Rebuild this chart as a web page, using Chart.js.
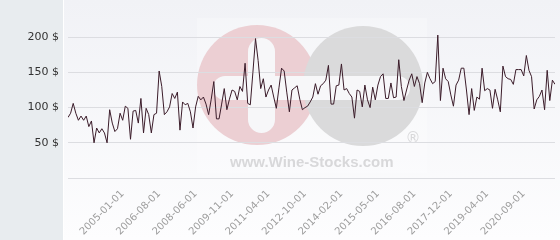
<!DOCTYPE html>
<html>
<head>
<meta charset="utf-8">
<script src="https://cdn.jsdelivr.net/npm/chart.js@4"></script>
<style>
html,body{margin:0;padding:0;background:#f6f7fa;}
#wrap{width:560px;height:240px;position:relative;}
</style>
</head>
<body>
<div id="wrap"><canvas id="c" width="560" height="240"></canvas></div>
<script>
const prices = [
  86, 92, 106, 92, 82, 88, 82, 88, 73, 81, 50, 71, 64, 70, 64, 50, 97, 78, 66, 70,
  92, 82, 102, 99, 55, 95, 96, 78, 113, 64, 99, 90, 64, 90, 92, 152, 130, 90, 94, 101,
  120, 113, 122, 68, 108, 104, 106, 94, 71, 101,
  116, 111, 115, 105, 90, 112, 137, 84, 84, 105, 127, 97, 112, 125, 123, 111, 130, 123, 163, 106,
  104, 150, 198, 167, 127, 141, 115, 125, 132, 115, 99, 128, 156, 152, 122, 94, 125, 128, 131, 112,
  97, 100, 102, 108, 115, 134, 119, 131, 134, 139, 160, 105, 105, 131, 132, 162, 125, 127, 120, 115,
  85, 125, 123, 101, 132, 111, 100, 129, 111, 132, 144,
  148, 113, 113, 135, 114, 115, 168, 130, 110, 125, 139, 148, 130, 144, 134, 107, 135, 150, 141, 134,
  137, 203, 110, 156, 141, 137, 118, 102, 132, 139, 156, 156, 125, 90, 127, 96, 115, 112, 156, 124,
  127, 125, 99, 126, 111, 94, 159, 144, 141, 140, 133, 154, 154, 154, 145, 174, 153, 144, 98, 111,
  116, 125, 97, 153, 110, 139, 133
];
// Date tick labels shown on the x axis
const tickLabels = ['2005-01-01','2006-08-01','2008-06-01','2009-11-01','2011-04-01','2012-10-01',
                    '2014-02-01','2015-05-01','2016-08-01','2017-12-01','2019-04-01','2020-09-01'];
const firstTickIndex = 21;
const tickStep = 14;
// Y axis tick values
const yTicks = [0, 50, 100, 150, 200];

const tickIndexes = tickLabels.map((_, i) => firstTickIndex + i * tickStep);
const points = prices.map((v, i) => ({x: i, y: v}));

const bgPlugin = {
  id: 'bg',
  beforeDraw(chart) {
    const ctx = chart.ctx;
    const W = chart.width, H = chart.height;
    ctx.save();
    const g = ctx.createLinearGradient(0, 0, 0, H);
    g.addColorStop(0, '#f1f2f6');
    g.addColorStop(1, '#fdfdfe');
    ctx.fillStyle = g;
    ctx.fillRect(0, 0, W, H);
    ctx.fillStyle = '#e8ecef';
    ctx.fillRect(0, 0, 63, H);
    ctx.fillStyle = '#ffffff';
    ctx.fillRect(63, 0, 1, H);
    // watermark
    ctx.fillStyle = 'rgba(255,255,255,0.25)';
    ctx.fillRect(197, 18, 230, 155);
    ctx.fillStyle = '#eccfd3';
    ctx.beginPath(); ctx.arc(257, 85, 60, 0, Math.PI * 2); ctx.fill();
    ctx.fillStyle = '#dadadb';
    ctx.beginPath(); ctx.arc(363, 86, 60, 0, Math.PI * 2); ctx.fill();
    ctx.fillStyle = '#f7f7f9';
    const pill = (x, y, w, h) => {
      const r = Math.min(w, h) / 2;
      ctx.beginPath();
      ctx.moveTo(x + r, y);
      ctx.lineTo(x + w - r, y);
      ctx.arc(x + w - r, y + r, r, -Math.PI / 2, Math.PI / 2);
      ctx.lineTo(x + r, y + h);
      ctx.arc(x + r, y + h - r, r, Math.PI / 2, Math.PI * 1.5);
      ctx.closePath();
      ctx.fill();
    };
    pill(213, 76, 197, 24);
    const vx = 248, vy = 38, vw = 27, vh = 95;
    ctx.beginPath();
    ctx.moveTo(vx, vy + vw / 2);
    ctx.arc(vx + vw / 2, vy + vw / 2, vw / 2, Math.PI, 0);
    ctx.lineTo(vx + vw, vy + vh - vw / 2);
    ctx.arc(vx + vw / 2, vy + vh - vw / 2, vw / 2, 0, Math.PI);
    ctx.closePath();
    ctx.fill();
    ctx.fillStyle = '#d8d8da';
    ctx.font = 'bold 15px "Liberation Sans", Arial, sans-serif';
    ctx.textAlign = 'left';
    ctx.textBaseline = 'alphabetic';
    ctx.fillText('www.Wine-Stocks.com', 230, 167);
    ctx.font = '15px "DejaVu Sans", sans-serif';
    ctx.textAlign = 'center';
    ctx.textBaseline = 'middle';
    ctx.fillText('®', 413, 139);
    ctx.restore();
  }
};

new Chart(document.getElementById('c'), {
  type: 'line',
  data: {
    datasets: [{
      data: points,
      borderColor: '#3b1c2a',
      borderWidth: 1,
      pointRadius: 0,
      tension: 0,
      fill: false
    }]
  },
  options: {
    responsive: false,
    animation: false,
    devicePixelRatio: 1,
    layout: {padding: {top: 2, right: 5, left: 0, bottom: 0}},
    plugins: {legend: {display: false}, tooltip: {enabled: false}},
    scales: {
      x: {
        type: 'linear',
        min: 0,
        max: prices.length - 1,
        afterBuildTicks: (axis) => { axis.ticks = tickIndexes.map(v => ({value: v})); },
        afterFit: (s) => { s.height = 62; s.paddingLeft = 0; s.paddingRight = 0; },
        grid: {display: false, drawTicks: false},
        border: {display: false},
        ticks: {
          autoSkip: false,
          minRotation: 45,
          maxRotation: 45,
          padding: 10,
          color: '#9d9d9d',
          font: {family: '"DejaVu Sans", sans-serif', size: 10},
          callback: (v) => tickLabels[tickIndexes.indexOf(v)] || ''
        }
      },
      y: {
        min: 0,
        max: 250,
        afterBuildTicks: (axis) => { axis.ticks = yTicks.map(v => ({value: v})); },
        afterFit: (s) => { s.width = 68; s.paddingTop = 0; s.paddingBottom = 0; },
        grid: {color: '#dcdde1', lineWidth: 1, drawTicks: false},
        border: {display: false},
        ticks: {
          padding: 9,
          color: '#333333',
          font: {family: '"DejaVu Sans", sans-serif', size: 11},
          callback: (v) => v === 0 ? '' : v + ' $'
        }
      }
    }
  },
  plugins: [bgPlugin]
});
</script>
</body>
</html>
